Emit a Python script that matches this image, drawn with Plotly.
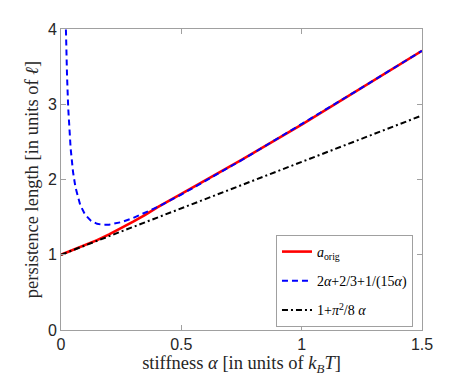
import plotly.graph_objects as go

# ==============================
# Data
# ==============================
alpha_orig = [0, 0.05, 0.1, 0.15, 0.2, 0.25, 0.3, 0.35, 0.4, 0.5, 0.6, 0.75, 1.0, 1.25, 1.5]
a_orig = [1.0, 1.063, 1.127, 1.195, 1.27, 1.35, 1.44, 1.53, 1.63, 1.81, 1.99, 2.26, 2.73, 3.22, 3.71]

alpha_asym = [0.0195, 0.02, 0.025, 0.03, 0.04, 0.05, 0.06, 0.08, 0.1, 0.125, 0.15, 0.175,
              0.2, 0.25, 0.3, 0.4, 0.5, 0.75, 1.0, 1.25, 1.5]
a_asym = [4.125, 4.04, 3.383, 2.949, 2.413, 2.100, 1.898, 1.660, 1.533, 1.450, 1.411, 1.398,
          1.400, 1.433, 1.489, 1.633, 1.800, 2.256, 2.733, 3.220, 3.711]

alpha_lin = [0, 1.5]
a_lin = [1.0, 2.851]

x_ticks = [0, 0.5, 1, 1.5]
x_tick_labels = ["0", "0.5", "1", "1.5"]
y_ticks = [0, 1, 2, 3, 4]

# ==============================
# Figure
# ==============================
fig = go.Figure()
fig.add_trace(go.Scatter(x=alpha_orig, y=a_orig, mode="lines", legendgroup="a",
                         line=dict(color="#ff0000", width=2.6),
                         name="<i>a</i><sub>orig</sub>"))
fig.add_trace(go.Scatter(x=alpha_asym, y=a_asym, mode="lines", legendgroup="b",
                         line=dict(color="#0000ff", width=2, dash="6px,4px"),
                         name="2<i>α</i>+2/3+1/(15<i>α</i>)"))
fig.add_trace(go.Scatter(x=alpha_lin, y=a_lin, mode="lines", legendgroup="c",
                         line=dict(color="#000000", width=2, dash="6px,3px,2px,3px"),
                         name="1+<i>π</i><sup>2</sup>/8 <i>α</i>"))

title_font = dict(family="Liberation Serif, Times New Roman", size=18.5, color="#262626")

axis_style = dict(
    showline=True, linecolor="#a0a0a0", linewidth=1, mirror="ticks",
    ticks="inside", ticklen=5, tickcolor="#a0a0a0",
    showgrid=False, zeroline=False, automargin=False,
    tickfont=dict(family="Liberation Sans, Arial", size=16, color="#262626"),
)

# page body adds an 8px offset, margins account for it
fig.update_layout(
    width=467, height=382,
    margin=dict(l=53, r=53, t=21, b=60),
    plot_bgcolor="white", paper_bgcolor="white",
    showlegend=True,
    legend=dict(x=0.975, y=0.01, xanchor="right", yanchor="bottom",
                bgcolor="white", bordercolor="#a0a0a0", borderwidth=1,
                font=dict(family="Liberation Serif, Times New Roman", size=14, color="#000000"),
                itemwidth=30, tracegroupgap=8),
    xaxis=dict(range=[0, 1.5], tickvals=x_ticks, ticktext=x_tick_labels,
               title=dict(text="stiffness <i>α</i> [in units of <i>k</i><sub><i>B</i></sub><i>T</i>]",
                          standoff=0, font=title_font),
               **axis_style),
    yaxis=dict(range=[0, 4], tickvals=y_ticks,
               title=dict(text="persistence length [in units of <i>ℓ</i>]",
                          standoff=4, font=title_font),
               **axis_style),
)

fig.write_html("out.html")
